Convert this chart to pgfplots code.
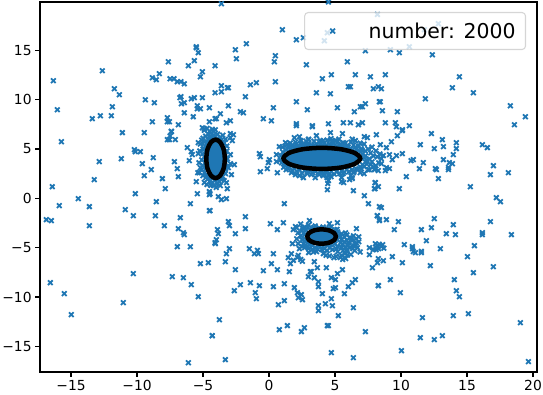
\documentclass[border=0pt]{standalone}
\usepackage{fontspec}
\setmainfont{DejaVu Sans}
\usepackage{pgfplots}
\pgfplotsset{compat=1.18}
\definecolor{mblue}{HTML}{1F77B4}
\begin{document}
\begin{tikzpicture}
\useasboundingbox (-40bp,-23bp) rectangle (503bp,372bp);
\begin{axis}[
  scale only axis, width=497bp, height=370bp,
  xmin=-17.35, xmax=20.3, ymin=-17.6, ymax=19.9,
  xtick={-15,-10,-5,0,5,10,15,20},
  xticklabels={−15,−10,−5,0,5,10,15,20},
  ytick={-15,-10,-5,0,5,10,15},
  yticklabels={−15,−10,−5,0,5,10,15},
  tick align=outside, xtick pos=bottom, ytick pos=left,
  major tick length=4.86bp,
  tick style={black,line width=1.1bp},
  axis line style={line width=1.1bp},
  ticklabel style={font=\fontsize{13.9}{16}\selectfont},
  legend style={at={(0.978,0.973)},anchor=north east,fill=white,fill opacity=0.8,draw opacity=0.8,text opacity=1,draw=black!20,rounded corners=3.5bp,line width=1.1bp,font=\fontsize{20.5}{24}\selectfont,inner xsep=8bp,inner ysep=8bp},
  legend image code/.code={\path[draw=none] (0bp,0bp) -- (54bp,0bp);\draw[mblue,draw opacity=1,line width=1.8bp] (17.6bp,-2.4bp)--(22.4bp,2.4bp) (17.6bp,2.4bp)--(22.4bp,-2.4bp);},
]
\addplot[only marks,mark=x,mark size=3.3bp,mark options={draw=mblue,line width=1.8bp}] coordinates {
(-16.34,11.92)(-16.04,8.98)(-12.63,12.93)(-11.72,11.11)(-11.34,10.5)(-11.87,9.28)(-13.39,8.07)(-12.78,8.37)(-11.95,8.37)(-9.37,9.99)(-8.69,9.69)(-8.84,7.76)(-8.84,12.22)(-8.54,12.02)(-8.31,12.63)(-7.63,13.84)(-7.5,12.12)(-7.2,12.12)(-6.95,11.82)(-6.67,11.82)(-6.42,11.61)(-6.11,13.44)(-5.66,13.95)(-5.51,15.36)(-5.51,15.26)(-5.36,14.76)(-5.2,12.32)(-5.05,12.83)(-4.09,13.44)(-4.09,10.7)(-6.75,10.2)(-6.67,10.3)(-6.64,9.59)(-6.42,9.69)(-6.42,8.67)(-5.89,10.09)(-5.66,10.2)(-5.05,10.2)(-5.43,9.38)(-5.43,9.08)(-5.2,9.08)(-4.52,9.18)(-5.74,8.27)(-4.52,7.76)(-7.7,8.17)(-7.7,7.76)(-7.55,7.76)(-6.87,7.46)(-5.05,7.15)(-4.9,7.05)(-7.4,6.8)(-4.09,8.07)(-4.2,6.8)
(-15.73,5.74)(-11.11,6.66)(-9.45,6.66)(-7.4,6.76)(-7.5,6.32)(-7.7,5.95)(-7.1,5.95)(-7.55,5.95)(-10.2,4.93)(-10.13,4.73)(-9.75,4.73)(-12.86,3.72)(-11.19,4.02)(-8.77,4.12)(-9.6,3.51)(-8.92,2.91)(-9.45,2.3)(-7.17,3.72)(-6.95,3.01)(-6.87,2.2)(-8.08,2.0)(-7.86,0.98)(-13.24,1.89)(-16.42,1.18)(-14.45,-0.03)(-15.89,-0.74)(-13.61,-0.84)(-16.87,-2.16)(-16.49,-2.26)(-13.61,-2.77)(-10.13,0.47)(-8.54,-0.34)(-10.89,-1.15)(-10.28,-1.76)(-8.61,-1.76)(-7.93,-2.77)(-6.72,-1.96)(-5.96,-0.54)(-6.87,-3.07)(-6.49,-3.48)(-6.42,-3.68)(-6.95,-4.9)(-5.96,-4.9)(-5.43,0.47)(-5.51,1.69)(-4.52,0.68)(-4.52,0.37)(-4.52,-1.25)(-4.09,-4.49)(-6.19,5.14)(-5.89,4.73)(-5.81,4.43)(-6.04,3.82)(-5.36,4.53)(-5.36,5.64)(-5.28,2.6)
(-16.57,-8.55)(-15.51,-9.66)(-14.98,-11.79)(-10.28,-7.63)(-11.04,-10.57)(-7.33,-7.94)(-6.49,-8.04)(-5.89,-8.75)(-5.36,-9.97)(-5.2,-6.62)(-4.6,-6.52)(-4.3,-13.92)(-6.11,-16.66)
(-3.61,19.72)(4.5,19.9)(1.01,17.09)(2.07,16.07)(2.6,16.28)(4.42,16.78)(4.19,15.97)(7.3,14.96)(8.21,18.64)(-1.72,15.67)(-2.55,15.06)(-2.47,14.15)(0.48,14.45)(0.4,13.84)(2.83,13.54)(5.93,13.84)(0.48,11.82)(-0.96,11.72)(-1.41,11.51)(-3.08,11.21)(-3.16,11.21)(-3.61,11.41)(-3.61,10.8)(-1.79,10.3)(4.04,12.12)(4.72,12.53)(6.54,12.53)(7.68,12.32)(3.59,10.7)(4.65,10.6)(6.01,11.31)(6.16,11.31)(7.9,11.11)(8.28,11.31)(2.07,9.79)(2.9,8.98)(0.33,9.18)(5.18,9.18)(6.46,8.78)(6.92,9.28)(7.07,9.28)(7.3,9.59)(-3.08,9.38)(-2.17,8.78)(-1.94,8.67)(-3.69,8.57)(-3.99,8.07)(-2.93,7.86)(-3.23,7.66)(-0.43,8.07)(0.18,7.86)(2.07,7.56)(3.28,7.36)(4.5,7.56)(5.63,7.66)(6.16,7.66)(6.77,7.46)(7.07,7.66)(-4.07,6.95)(8.36,9.79)
(-0.73,4.53)(-0.66,4.22)(0.03,3.92)(-0.05,3.62)(-0.13,3.01)(-0.66,2.7)(0.56,4.43)(0.56,3.72)(0.63,2.6)(0.78,5.24)(1.16,-0.54)(4.42,0.88)(6.39,0.78)(7.22,0.27)(7.53,-0.54)(8.06,1.59)(7.98,0.98)(8.36,-0.84)(8.21,-1.76)(8.36,-2.16)(-4.47,-1.25)(-1.79,-1.86)(-3.08,-2.36)(-3.0,-2.77)(-1.79,-3.07)(-3.91,-3.17)(-3.84,-3.58)(-2.55,-3.58)(-3.99,-4.19)(-4.07,-4.59)(-3.0,-5.1)(-1.49,-5.1)(-0.88,-5.27)(0.1,-2.57)(1.09,-2.47)(0.63,-3.17)(2.0,-2.87)(1.84,-3.17)(3.06,-2.26)(4.57,-2.57)(5.18,-2.47)(6.62,-3.07)(1.77,-4.59)
(-2.93,6.56)(-2.7,6.45)(-2.93,6.15)(-2.78,5.85)(-2.93,4.43)(-2.93,3.51)(-2.63,3.41)(-3.08,3.11)(-2.85,2.4)(-3.23,1.59)(-3.69,1.29)(-3.16,0.98)(-3.84,0.17)(-3.61,-0.13)(-3.23,-0.03)(-4.47,0.47)
(2.07,7.37)(3.28,7.26)(4.65,6.66)(5.56,6.56)(3.59,6.35)(2.3,6.25)(1.92,6.15)(2.98,5.95)(3.89,5.85)(7.22,6.25)(7.45,6.15)(8.13,6.45)(4.8,5.85)(5.03,5.85)(6.54,5.85)(5.63,5.64)
(-3.23,-5.61)(-3.31,-6.42)(-2.55,-7.23)(-2.17,-8.75)(-2.63,-9.36)(-1.41,-8.55)(-1.04,-9.56)(-0.96,-10.17)(-0.73,-8.85)(-0.43,-7.33)(0.18,-6.62)(0.63,-7.23)(0.33,-5.61)(-1.11,-5.61)(-0.81,-5.61)(0.33,-8.95)(1.16,-8.65)(0.71,-10.78)(1.16,-10.37)(1.54,-7.43)(1.62,-6.62)(1.46,-6.01)(1.69,-5.61)(1.92,-9.05)(2.15,-9.56)(2.22,-10.07)(2.45,-9.76)(2.53,-10.27)(2.98,-7.94)(3.13,-7.43)(3.2,-7.43)(3.43,-8.04)(3.74,-8.45)(3.74,-8.95)(4.04,-9.66)(3.74,-10.88)(3.74,-11.38)(4.27,-10.68)(4.8,-10.88)(4.72,-10.17)(5.71,-9.66)(6.01,-8.95)(6.31,-8.55)(6.54,-8.24)(5.25,-11.89)(6.39,-11.08)(-3.76,-12.3)(-4.3,-13.92)(-3.31,-16.35)(0.78,-13.31)(1.39,-12.9)(2.45,-13.51)(2.68,-13.11)(4.42,-12.9)(4.5,-12.9)(7.3,-13.51)(4.72,-15.64)(6.39,-16.15)(3.66,-7.03)(4.34,-7.03)(3.43,-6.42)(5.56,-7.23)(5.18,-7.63)(4.72,-8.04)(5.03,-8.24)(5.03,-9.05)(4.87,-9.15)(7.83,-7.03)(8.28,-8.85)(7.6,-5.71)(8.21,-6.52)(8.28,-6.11)
(1.84,-6.28)(2.22,-5.78)(2.4,-6.2)(2.15,-6.0)(2.53,-6.38)(3.36,-5.44)(4.12,-5.6)(4.32,-5.78)(4.57,-5.84)(4.92,-6.01)(5.08,-5.88)(5.5,-5.8)(5.75,-5.6)(5.58,-6.2)(5.93,-5.75)(6.5,-5.3)(6.9,-5.44)
(12.83,17.7)(11.77,17.09)(10.63,15.36)(9.19,15.06)(9.87,14.76)(12.37,14.55)(8.81,12.53)(14.42,12.32)(13.89,11.21)(15.48,10.7)(11.84,10.09)(8.51,11.11)(8.43,9.79)(8.59,8.88)(9.72,8.78)(18.28,9.38)(19.42,8.27)(18.59,7.46)(8.81,7.66)(9.57,7.66)(9.65,7.26)(10.1,6.95)(10.63,7.36)
(10.1,6.86)(9.72,6.35)(9.27,5.74)(8.89,5.14)(8.43,5.44)(12.3,6.56)(13.13,5.95)(11.46,5.44)(12.52,5.04)(13.21,5.24)(14.19,5.64)(14.19,5.04)(13.96,4.43)(16.16,5.44)(16.54,5.14)(17.0,3.31)(18.13,2.6)(16.77,2.4)(15.25,1.18)(10.1,4.53)(9.65,4.33)(9.12,4.43)(9.34,3.92)(8.66,4.33)(8.51,4.02)(8.51,3.51)(10.76,3.82)(10.93,3.92)(11.69,3.62)(11.39,3.01)(12.6,3.01)(12.68,2.91)(13.21,3.92)(13.66,3.62)(13.89,3.51)(13.59,3.11)(13.59,2.91)(12.83,2.0)(10.4,2.2)(9.87,0.98)(9.12,3.01)(8.89,3.11)(8.81,2.81)(8.28,2.81)(8.03,3.01)(8.28,1.18)(8.03,0.98)(8.03,1.59)(8.51,-0.94)(8.2,-1.76)(8.36,-2.26)(8.89,-2.16)(9.8,-2.36)(9.49,-3.17)(11.54,-3.17)(12.3,-2.97)(12.52,-2.06)(13.96,-2.67)(13.43,-3.58)(14.12,-3.68)(16.16,-3.48)(16.16,-3.68)(16.77,-2.36)(18.36,-3.68)(17.22,0.07)(17.53,-0.34)(11.92,-4.29)(10.25,-4.69)(10.86,-4.9)(10.86,-5.1)(12.98,-5.1)(15.56,-4.8)(11.54,-5.37)
(8.66,-6.32)(9.34,-5.91)(10.1,-6.52)(10.93,-5.4)(11.09,-5.51)(11.54,-5.51)(12.22,-6.82)(15.03,-5.91)(16.99,-6.93)(15.48,-7.53)(9.19,-8.24)(8.28,-8.85)(9.95,-9.56)(14.04,-8.24)(14.19,-9.36)(14.42,-9.97)(13.96,-11.89)(15.1,-11.69)(11.62,-12.09)(19.04,-12.6)(13.13,-13.92)(11.46,-14.12)(12.52,-14.32)(10.03,-15.44)(19.65,-16.55)
% main cluster
(1.0,5.2)(1.2,5.3)(1.4,5.5)(1.6,5.6)(1.8,5.4)(2.0,5.7)(2.2,5.3)(2.4,5.6)(2.6,5.5)(2.8,5.8)(3.0,5.6)(3.2,5.4)(3.4,5.8)(3.6,5.5)(3.8,5.7)(4.0,5.4)(4.2,5.6)(4.4,5.9)(4.6,5.5)(4.8,5.7)(5.0,5.4)(5.2,5.8)(5.4,5.5)(5.6,5.3)(5.8,5.6)(6.0,5.2)(6.2,5.7)(6.4,5.4)(6.6,5.0)(6.8,5.3)(7.0,5.0)(7.2,5.5)
(1.3,4.9)(1.6,5.0)(1.9,5.1)(2.2,5.0)(2.5,5.2)(2.9,5.2)(3.3,5.3)(3.7,5.2)(4.1,5.3)(4.5,5.25)(4.9,5.2)(5.3,5.2)(5.7,5.0)(6.1,4.9)(6.5,4.7)(6.9,4.7)(7.1,4.5)(7.2,4.1)(7.3,3.7)(7.1,3.4)(6.9,3.2)(6.6,3.0)(6.3,2.9)(5.9,2.9)(5.5,2.8)(5.1,2.7)(4.7,2.7)(4.3,2.6)(3.9,2.7)(3.5,2.7)(3.1,2.8)(2.7,2.8)(2.3,2.9)(1.9,3.0)(1.5,3.2)(1.2,3.4)(0.95,3.6)(0.9,4.3)(1.05,4.7)
(1.3,2.9)(1.7,2.6)(2.0,2.4)(2.3,2.3)(2.6,2.1)(2.9,2.5)(3.2,2.4)(3.5,2.1)(3.8,2.4)(4.1,2.3)(4.4,2.1)(4.6,2.5)(4.7,2.2)(4.5,1.8)(4.45,1.5)(5.5,2.1)(5.6,2.5)(5.65,1.6)(5.5,1.7)(6.2,2.3)(6.3,2.1)(6.4,2.6)(6.1,1.9)(6.3,2.0)(6.9,2.6)(7.2,2.5)(7.0,3.0)(7.5,2.9)
(7.4,3.5)(7.6,4.0)(7.7,4.6)(7.8,5.2)(7.9,3.2)(8.0,2.9)(7.6,2.9)(7.8,3.7)(7.9,4.3)(8.1,4.8)(8.2,4.2)(8.3,3.6)(8.4,4.5)(7.5,5.0)(7.3,4.8)(7.7,3.4)(8.1,3.3)
(1.5,5.15)(1.75,5.2)(2.05,5.45)(2.35,5.15)(2.65,5.35)(2.95,5.45)(3.2,5.2)(3.5,5.05)(3.85,5.45)(4.15,5.1)(4.35,5.4)(4.7,5.35)(5.05,5.1)(5.35,5.35)(5.6,5.05)(5.9,5.25)(6.2,5.05)(6.5,5.15)(6.75,4.9)(7.05,4.85)(7.3,4.3)(7.4,3.9)(7.2,3.2)(6.75,2.95)(6.45,2.75)(6.05,2.7)(5.7,2.65)(5.35,2.5)(4.95,2.45)(4.5,2.4)(4.15,2.55)(3.7,2.55)(3.3,2.6)(2.9,2.7)(2.5,2.55)(2.1,2.75)(1.75,2.85)(1.4,3.05)(1.1,3.15)(0.85,3.9)(3.0,6.0)(4.1,5.85)(4.7,6.05)(5.3,6.0)(6.3,6.0)(6.9,5.6)(2.4,5.85)(1.25,5.65)
% left cluster
(-4.9,6.9)(-4.7,7.1)(-4.5,6.8)(-4.3,7.0)(-4.6,6.5)(-4.4,6.6)(-4.2,6.4)(-4.8,6.3)(-5.0,6.1)(-4.5,6.2)(-4.3,6.1)(-4.1,6.3)(-3.9,6.5)(-3.7,6.2)(-3.5,6.4)(-3.3,6.0)(-3.6,5.9)(-3.4,5.6)(-3.2,5.3)(-3.4,5.1)(-3.2,4.8)(-3.3,4.4)(-3.15,4.0)(-3.3,3.6)(-3.2,3.2)(-3.35,2.9)(-3.3,2.5)(-3.5,2.2)(-3.6,1.9)(-3.4,1.8)(-3.8,1.7)(-3.9,1.5)(-4.1,1.8)(-4.3,1.6)(-4.5,1.7)(-4.7,1.4)(-4.9,1.6)(-4.6,2.0)(-4.8,2.1)(-5.0,2.3)(-4.9,2.6)(-5.1,2.9)(-4.8,3.0)(-5.0,3.3)(-4.85,3.6)(-5.1,3.9)(-4.9,4.2)(-5.05,4.5)(-4.8,4.7)(-5.0,5.0)(-4.85,5.3)(-5.2,5.5)(-4.9,5.7)(-5.1,5.9)(-4.7,5.6)(-4.6,5.9)(-4.9,5.0)(-5.25,4.8)(-5.3,3.6)(-5.2,3.1)(-5.4,2.6)(-4.7,2.4)(-4.75,3.3)(-4.8,4.0)(-3.3,3.0)(-3.45,3.4)(-3.4,4.2)(-3.35,4.7)(-3.5,5.7)(-3.7,5.9)(-4.0,6.0)(-4.2,5.9)(-3.9,2.0)(-4.2,2.1)(-4.45,2.1)(-4.2,1.3)(-4.0,1.1)(-4.4,1.3)
% bottom cluster
(2.1,-3.0)(2.4,-2.6)(2.7,-2.9)(3.0,-2.7)(3.2,-3.0)(3.5,-2.8)(3.8,-3.0)(4.1,-2.9)(4.4,-3.1)(4.7,-2.9)(5.0,-3.2)(2.2,-3.5)(2.5,-3.3)(2.8,-3.2)(2.4,-3.8)(2.7,-3.7)(2.1,-4.1)(2.5,-4.2)(2.8,-4.2)(2.2,-4.6)(2.6,-4.6)(2.9,-4.5)(3.1,-4.7)(2.3,-5.1)(2.7,-5.0)(3.0,-5.1)(3.3,-4.8)(3.5,-5.0)(3.8,-4.8)(4.1,-4.9)(4.4,-4.8)(4.7,-4.7)(5.0,-4.6)(5.2,-4.2)(5.3,-3.8)(5.2,-3.4)(5.5,-3.6)(5.7,-3.9)(5.9,-3.7)(6.1,-4.0)(6.4,-3.8)(6.6,-4.1)(6.8,-3.9)(5.4,-4.5)(5.7,-4.4)(6.0,-4.5)(6.3,-4.3)(6.6,-4.5)(6.8,-4.4)(5.2,-4.9)(5.5,-5.0)(5.8,-4.9)(6.1,-5.0)(6.4,-4.8)(6.7,-5.0)(4.0,-5.2)(4.4,-5.3)(4.8,-5.2)(5.2,-5.4)(5.6,-5.3)(5.9,-5.4)(3.0,-5.5)(3.6,-5.4)(5.4,-6.0)(5.8,-6.1)(6.2,-5.7)
(8.05,-4.6)(8.2,-4.8)(8.35,-4.65)(8.5,-4.9)(8.15,-5.0)(8.3,-5.1)(8.6,-4.7)(8.1,-5.2)(8.7,-5.05)(7.6,-5.0)(7.9,-5.2)
(2.55,-3.05)(2.95,-3.0)(3.4,-2.95)(4.0,-3.1)(4.55,-3.05)(5.15,-3.15)(5.4,-3.9)(5.5,-4.2)(5.9,-4.25)(6.25,-4.05)(5.8,-3.5)(6.0,-4.75)(5.55,-4.7)(5.1,-5.1)(4.6,-5.0)(4.2,-5.1)(3.7,-5.15)(3.25,-5.2)(2.95,-4.85)(2.75,-4.4)(2.5,-4.9)(2.65,-3.5)(5.9,-5.2)(6.35,-5.1)(6.55,-4.7)
};
\addlegendentry{number: 2000}
\end{axis}
\begin{axis}[
  scale only axis, width=497bp, height=370bp,
  xmin=-17.35, xmax=20.3, ymin=-17.6, ymax=19.9,
  hide axis,
]
\addplot[fill=mblue,draw=black,line width=4.5bp,smooth cycle] coordinates {(6.91,4.05)(6.52,4.585)(5.455,4.977)(4,5.12)(2.545,4.977)(1.48,4.585)(1.09,4.05)(1.48,3.515)(2.545,3.123)(4,2.98)(5.455,3.123)(6.52,3.515)};
\addplot[fill=mblue,draw=black,line width=4.5bp,smooth cycle] coordinates {(-3.35,4)(-3.44,4.975)(-3.70,5.689)(-4.05,5.95)(-4.40,5.689)(-4.66,4.975)(-4.75,4)(-4.66,3.025)(-4.40,2.311)(-4.05,2.05)(-3.70,2.311)(-3.44,3.025)};
\addplot[fill=mblue,draw=black,line width=4.5bp,smooth cycle] coordinates {(5.06,-3.87)(4.92,-3.505)(4.52,-3.238)(3.98,-3.14)(3.44,-3.238)(3.04,-3.505)(2.90,-3.87)(3.04,-4.235)(3.44,-4.502)(3.98,-4.6)(4.52,-4.502)(4.92,-4.235)};
\end{axis}
\end{tikzpicture}
\end{document}
